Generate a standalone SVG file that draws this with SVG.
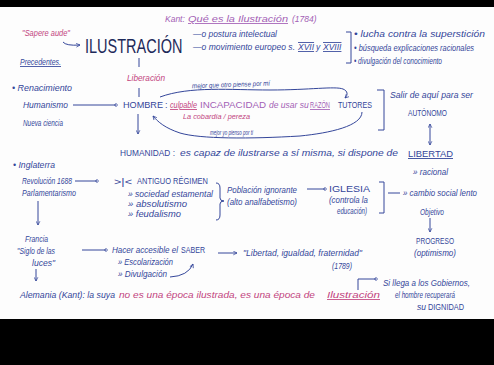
<svg xmlns="http://www.w3.org/2000/svg" width="494" height="365" viewBox="0 0 494 365">
<defs>
<style>
text{font-family:"Liberation Sans",Arial,sans-serif;font-size:8.5px;fill:#34469a}
.h{font-style:italic}
.p{fill:#c2447e}
.v{fill:#a35fb5}
.c{font-size:9px}
.s{font-size:7px}
.ln{stroke:#34469a;stroke-width:1;fill:none}
</style>
<marker id="o" viewBox="0 0 6 6" refX="3" refY="3" markerWidth="4" markerHeight="4" orient="auto"><circle cx="3" cy="3" r="2" fill="none" stroke="#34469a" stroke-width="1"/></marker>
<marker id="a" viewBox="0 0 8 8" refX="7" refY="4" markerWidth="5" markerHeight="5" orient="auto-start-reverse"><path d="M1,1 L7,4 L1,7" fill="none" stroke="#34469a" stroke-width="1.2"/></marker>
</defs>
<rect width="494" height="365" fill="#fdfdfd"/>
<rect x="0" y="0" width="494" height="7" fill="#000"/>
<rect x="0" y="319" width="494" height="46" fill="#000"/>

<g id="connectors">
<path class="ln" d="M63,42 Q66,46 80,45" marker-end="url(#a)"/>
<path class="ln" d="M139,58 V67"/>
<path class="ln" d="M139,88 V97"/>
<path class="ln" d="M73,105 H116" marker-end="url(#o)"/>
<path class="ln" d="M160,97 C190,86 230,90 270,90 C310,90 335,86 343,89 C348,91 348,95 345,98" marker-end="url(#a)"/>
<path class="ln" d="M362,112 C362,126 330,133 300,136 C250,139 200,139 180,133 C165,128 158,122 153,116" marker-end="url(#a)"/>
<path class="ln" d="M138,114 V134" marker-end="url(#a)"/>
<path class="ln" d="M377,90 H384 V130 H378"/>
<path class="ln" d="M430,124 V145" marker-start="url(#a)" marker-end="url(#a)"/>
<path class="ln" d="M75,181 H97" marker-end="url(#o)"/>
<path class="ln" d="M216,183 Q220,183 220,188 V198 Q220,201 224,201 Q220,201 220,204 V215 Q220,220 216,220"/>
<path class="ln" d="M307,189 H325" marker-end="url(#o)"/>
<path class="ln" d="M379,182 H384 V213 H379"/>
<path class="ln" d="M388,193 H400"/>
<path class="ln" d="M430,218 V232" marker-end="url(#a)"/>
<path class="ln" d="M38,201 V225" marker-end="url(#a)"/>
<path class="ln" d="M36,269 V281" marker-end="url(#a)"/>
<path class="ln" d="M82,250 H106" marker-end="url(#o)"/>
<path class="ln" d="M170,277 Q188,276 193,264" marker-end="url(#a)"/>
<path class="ln" d="M218,253 H237" marker-end="url(#a)"/>
<path class="ln" d="M358,290 V279 H376" marker-end="url(#o)"/>
<path class="ln" d="M346,32 H351 V63 H346"/>
</g>

<g id="title">
<text class="h v" x="165" y="22" font-size="9">Kant:</text>
<text class="h v" x="188" y="22" font-size="9" text-decoration="underline" textLength="100" lengthAdjust="spacingAndGlyphs">Qué es la Ilustración</text>
<text class="h v" x="292" y="22" font-size="9">(1784)</text>
</g>

<g id="sapere">
<text class="h p" x="22" y="36" textLength="48" lengthAdjust="spacingAndGlyphs">"Sapere aude"</text>
</g>

<g id="ilustracion">
<text x="0" y="0" transform="translate(85,53) scale(1,1.4)" style="font-size:14.5px;fill:#1e2a5a">ILUSTRACIÓN</text>
</g>

<g id="def">
<text class="h" x="193" y="37" textLength="84" lengthAdjust="spacingAndGlyphs">—o postura intelectual</text>
<text class="h" x="193" y="50" textLength="102" lengthAdjust="spacingAndGlyphs">—o movimiento europeo s.</text>
<text class="h" x="298" y="50" text-decoration="underline overline">XVII</text>
<text class="h" x="316" y="50">y</text>
<text class="h" x="323" y="50" text-decoration="underline overline">XVIII</text>
</g>

<g id="rasgos">
<text class="h" x="354" y="37" textLength="131" lengthAdjust="spacingAndGlyphs">• lucha contra la superstición</text>
<text class="h" x="354" y="51" textLength="120" lengthAdjust="spacingAndGlyphs">• búsqueda explicaciones racionales</text>
<text class="h" x="354" y="64" textLength="88" lengthAdjust="spacingAndGlyphs">• divulgación del conocimiento</text>
</g>

<g id="precedentes">
<text class="h" x="20" y="65" text-decoration="underline" textLength="41" lengthAdjust="spacingAndGlyphs">Precedentes.</text>
<text class="h" x="12" y="91" textLength="60" lengthAdjust="spacingAndGlyphs">• Renacimiento</text>
<text class="h" x="23" y="108" textLength="45" lengthAdjust="spacingAndGlyphs">Humanismo</text>
<text class="h" x="23" y="126" textLength="40" lengthAdjust="spacingAndGlyphs">Nueva ciencia</text>
</g>

<g id="liberacion">
<text class="h p" x="127" y="81" textLength="38" lengthAdjust="spacingAndGlyphs">Liberación</text>
</g>

<g id="hombre">
<text class="c" x="123" y="108" textLength="40" lengthAdjust="spacingAndGlyphs">HOMBRE</text>
<text class="c" x="165" y="108">:</text>
<text class="h p" x="170" y="108" text-decoration="underline" textLength="27" lengthAdjust="spacingAndGlyphs">culpable</text>
<text class="v" x="200" y="108" textLength="66" lengthAdjust="spacingAndGlyphs">INCAPACIDAD</text>
<text class="h v" x="269" y="108" font-size="6.2">de usar su</text>
<text class="v" x="310" y="108" text-decoration="underline" textLength="20" lengthAdjust="spacingAndGlyphs">RAZÓN</text>
<text class="h p s" x="183" y="119" textLength="67" lengthAdjust="spacingAndGlyphs">La cobardía / pereza</text>
<text class="h s" x="192" y="87" transform="rotate(-2 230 85)" textLength="78" lengthAdjust="spacingAndGlyphs">mejor que otro piense por mí</text>
<text class="h s" x="210" y="135" textLength="43" lengthAdjust="spacingAndGlyphs">mejor yo pienso por ti</text>
</g>

<g id="tutores">
<text class="c" x="338" y="108" textLength="34" lengthAdjust="spacingAndGlyphs">TUTORES</text>
</g>

<g id="autonomo">
<text class="h" x="390" y="98" textLength="83" lengthAdjust="spacingAndGlyphs">Salir de aquí para ser</text>
<text class="c" x="408" y="116" textLength="39" lengthAdjust="spacingAndGlyphs">AUTÓNOMO</text>
</g>

<g id="libertad">
<text class="c" x="408" y="157" text-decoration="underline" textLength="45" lengthAdjust="spacingAndGlyphs">LIBERTAD</text>
<text class="h" x="413" y="175" textLength="35" lengthAdjust="spacingAndGlyphs">» racional</text>
<text class="h" x="403" y="196" textLength="74" lengthAdjust="spacingAndGlyphs">» cambio social lento</text>
<text class="h" x="420" y="215" textLength="24" lengthAdjust="spacingAndGlyphs">Objetivo</text>
</g>

<g id="progreso">
<text class="c" x="416" y="244" textLength="38" lengthAdjust="spacingAndGlyphs">PROGRESO</text>
<text class="h" x="414" y="256" textLength="42" lengthAdjust="spacingAndGlyphs">(optimismo)</text>
</g>

<g id="humanidad">
<text class="c" x="120" y="156" textLength="55" lengthAdjust="spacingAndGlyphs">HUMANIDAD :</text>
<text class="h" x="180" y="156" textLength="218" lengthAdjust="spacingAndGlyphs">es capaz de ilustrarse a sí misma, si dispone de</text>
</g>

<g id="inglaterra">
<text class="h" x="13" y="168" textLength="42" lengthAdjust="spacingAndGlyphs">• Inglaterra</text>
<text class="h" x="22" y="184" textLength="50" lengthAdjust="spacingAndGlyphs">Revolución 1688</text>
<text class="h" x="22" y="196" textLength="54" lengthAdjust="spacingAndGlyphs">Parlamentarismo</text>
</g>

<g id="antiguo">
<text x="114" y="185" font-size="11" textLength="18" lengthAdjust="spacingAndGlyphs">&gt;|&lt;</text>
<text class="c" x="137" y="184" textLength="71" lengthAdjust="spacingAndGlyphs">ANTIGUO RÉGIMEN</text>
<text class="h" x="128" y="197" textLength="85" lengthAdjust="spacingAndGlyphs">» sociedad estamental</text>
<text class="h" x="128" y="207" textLength="59" lengthAdjust="spacingAndGlyphs">» absolutismo</text>
<text class="h" x="128" y="217" textLength="53" lengthAdjust="spacingAndGlyphs">» feudalismo</text>
</g>

<g id="poblacion">
<text class="h" x="227" y="193" textLength="70" lengthAdjust="spacingAndGlyphs">Población ignorante</text>
<text class="h" x="227" y="205" textLength="70" lengthAdjust="spacingAndGlyphs">(alto analfabetismo)</text>
</g>

<g id="iglesia">
<text class="c" x="329" y="192" textLength="41" lengthAdjust="spacingAndGlyphs">IGLESIA</text>
<text class="h" x="329" y="203" textLength="39" lengthAdjust="spacingAndGlyphs">(controla la</text>
<text class="h" x="337" y="214" textLength="30" lengthAdjust="spacingAndGlyphs">educación)</text>
</g>

<g id="francia">
<text class="h" x="25" y="242" textLength="23" lengthAdjust="spacingAndGlyphs">Francia</text>
<text class="h" x="17" y="254" textLength="38" lengthAdjust="spacingAndGlyphs">"Siglo de las</text>
<text class="h" x="32" y="266" textLength="23" lengthAdjust="spacingAndGlyphs">luces"</text>
</g>

<g id="saber">
<text class="h" x="112" y="253" textLength="66" lengthAdjust="spacingAndGlyphs">Hacer accesible el</text>
<text x="181" y="253" textLength="24" lengthAdjust="spacingAndGlyphs">SABER</text>
<text class="h" x="118" y="265" textLength="55" lengthAdjust="spacingAndGlyphs">» Escolarización</text>
<text class="h" x="118" y="277" textLength="49" lengthAdjust="spacingAndGlyphs">» Divulgación</text>
</g>

<g id="lema">
<text class="h" x="243" y="256" textLength="119" lengthAdjust="spacingAndGlyphs">"Libertad, igualdad, fraternidad"</text>
<text class="h" x="332" y="269" textLength="20" lengthAdjust="spacingAndGlyphs">(1789)</text>
</g>

<g id="dignidad">
<text class="h" x="383" y="286" textLength="87" lengthAdjust="spacingAndGlyphs">Si llega a los Gobiernos,</text>
<text class="h" x="395" y="298" textLength="60" lengthAdjust="spacingAndGlyphs">el hombre recuperará</text>
<text class="h" x="417" y="310">su</text>
<text class="c" x="428" y="310" textLength="36" lengthAdjust="spacingAndGlyphs">DIGNIDAD</text>
</g>

<g id="alemania">
<text class="h" x="20" y="298" textLength="95" lengthAdjust="spacingAndGlyphs">Alemania (Kant): la suya</text>
<text class="h p" x="119" y="298" textLength="196" lengthAdjust="spacingAndGlyphs">no es una época ilustrada, es una época de</text>
<text class="h p" x="327" y="298" font-size="9.5" text-decoration="underline" textLength="53" lengthAdjust="spacingAndGlyphs">Ilustración</text>
</g>
</svg>
